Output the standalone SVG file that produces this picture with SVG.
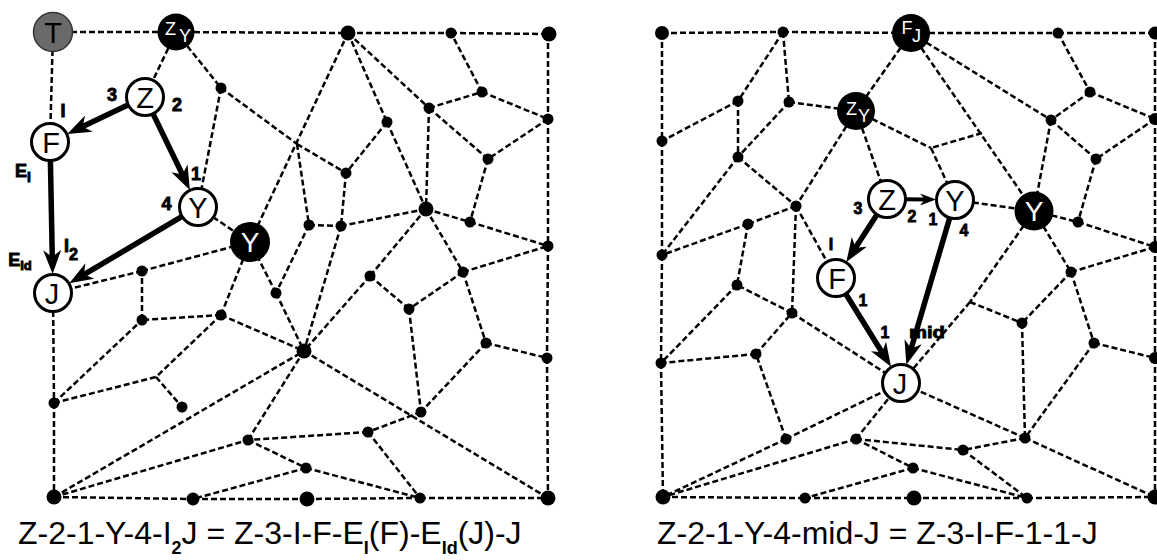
<svg xmlns="http://www.w3.org/2000/svg" width="1157" height="560" viewBox="0 0 1157 560">
<style>
.e{stroke:#000;stroke-width:2.5;stroke-dasharray:6 3;fill:none}
.a{stroke:#000;stroke-width:5.5;fill:none;marker-end:url(#ah)}
.d{fill:#000}
.wn{fill:#fff;stroke:#000;stroke-width:3}
.bn{fill:#000}
.lt{font-family:"Liberation Sans",Arial,sans-serif;font-size:29px;text-anchor:middle;fill:#000}
.lw{font-family:"Liberation Sans",Arial,sans-serif;text-anchor:middle;fill:#fff}
.lb{font-family:"Liberation Sans",Arial,sans-serif;font-weight:bold;font-size:18px;text-anchor:middle;fill:#000;stroke:#000;stroke-width:0.9}
.lr{font-family:"Liberation Sans",Arial,sans-serif;font-weight:bold;font-size:16px;text-anchor:middle;fill:#000;stroke:#000;stroke-width:0.8}
.cap{font-family:"Liberation Sans",Arial,sans-serif;font-size:32px;fill:#000}
.sub{font-weight:bold;font-size:18px}
</style>
<defs>
<marker id="ah" markerUnits="userSpaceOnUse" markerWidth="24" markerHeight="18" viewBox="0 0 24 18" refX="8" refY="9" orient="auto"><path d="M0,0 L24,9 L0,18 L7,9 Z" fill="#000"/></marker>
<marker id="ah2" markerUnits="userSpaceOnUse" markerWidth="16" markerHeight="12" viewBox="0 0 16 12" refX="5" refY="6" orient="auto"><path d="M0,0 L16,6 L0,12 L5,6 Z" fill="#000"/></marker>
</defs>
<rect width="1157" height="560" fill="#fff"/>
<g id="connectors">
<path class="e" d="M53,32 L176,32 M176,32 L348,33 M348,33 L451,33 M451,33 L549,34 M53,32 L50,142 M53,293 L54,403 M54,403 L54,497 M548,34 L548,119 M548,119 L548,246 M548,246 L547,358 M547,358 L548,498 M54,497 L193,499 M193,499 L307,499 M307,499 L420,498 M420,498 L548,498 M176,32 L145,97 M176,32 L221,88 M221,88 L198,207 M221,88 L297,144 M348,33 L250,242 M297,144 L346,173 M297,144 L309,225 M348,33 L387,122 M348,33 L429,108 M387,122 L346,173 M387,122 L426,209 M429,108 L426,209 M429,108 L482,92 M429,108 L488,159 M482,92 L451,33 M482,92 L548,119 M548,119 L488,159 M488,159 L470,222 M426,209 L470,222 M470,222 L548,246 M426,209 L341,226 M309,225 L341,226 M346,173 L341,226 M309,225 L276,293 M341,226 L304,351 M426,209 L370,276 M370,276 L304,351 M370,276 L409,309 M426,209 L463,272 M463,272 L548,246 M463,272 L409,309 M463,272 L486,343 M486,343 L547,358 M486,343 L421,412 M409,309 L421,412 M421,412 L368,432 M368,432 L248,440 M368,432 L420,498 M304,351 L548,498 M304,351 L248,440 M248,440 L306,468 M306,468 L420,498 M306,468 L193,499 M54,497 L248,440 M54,497 L304,351 M221,315 L250,242 M221,315 L142,320 M221,315 L304,351 M221,315 L156,377 M142,320 L142,271 M142,271 L53,293 M142,271 L250,242 M276,293 L250,242 M276,293 L304,351 M198,207 L250,242 M54,403 L156,377 M54,403 L142,320 M156,377 L182,407"/>
<path class="e" d="M662,33 L783,32 M783,32 L911,33 M911,33 L1058,33 M1058,33 L1155,33 M662,33 L662,141 M662,141 L662,255 M662,255 L661,363 M661,363 L663,497 M1155,33 L1155,119 M1155,119 L1155,247 M1155,247 L1155,358 M1155,358 L1155,497 M663,497 L805,498 M805,498 L914,498 M914,498 L1027,498 M1027,498 L1155,497 M783,32 L738,101 M783,32 L789,102 M738,101 L662,141 M738,101 L738,157 M789,102 L738,157 M789,102 L856,111 M911,33 L856,111 M856,111 L796,206 M856,111 L887,199 M856,111 L931,148 M738,157 L796,206 M738,157 L662,255 M796,206 L748,224 M748,224 L662,255 M748,224 L737,285 M796,206 L792,313 M796,206 L836,278 M911,33 L1034,211 M911,33 L1051,120 M1058,33 L1090,92 M1090,92 L1051,120 M1090,92 L1155,119 M1051,120 L1096,159 M1051,120 L1034,211 M1155,119 L1096,159 M1096,159 L1078,222 M1034,211 L1078,222 M1078,222 L1155,247 M982,133 L931,148 M931,148 L955,200 M955,200 L1034,211 M1034,211 L970,302 M1034,211 L1071,272 M1071,272 L1155,247 M1071,272 L1022,323 M1071,272 L1094,343 M970,302 L1022,323 M970,302 L901,383 M1022,323 L1025,438 M1094,343 L1155,358 M1094,343 L1025,438 M1025,438 L1155,497 M1025,438 L963,450 M1025,438 L901,383 M963,450 L1027,498 M856,439 L963,450 M913,468 L1027,498 M856,439 L913,468 M913,468 L805,498 M856,439 L901,383 M856,439 L663,497 M786,439 L663,497 M786,439 L901,383 M786,439 L756,354 M756,354 L661,363 M756,354 L792,313 M792,313 L901,383 M792,313 L737,285 M737,285 L661,363"/>
<line class="a" x1="127.8" y1="105.1" x2="81.7" y2="127.1"/>
<line class="a" x1="153.2" y1="114.1" x2="182.9" y2="175.5"/>
<line class="a" x1="50.4" y1="161" x2="52.3" y2="258"/>
<line class="a" x1="181.7" y1="216.7" x2="83.1" y2="275.1"/>
<line x1="906" y1="199.3" x2="925" y2="199.5" stroke="#000" stroke-width="4" marker-end="url(#ah2)"/>
<line class="a" x1="876.7" y1="215" x2="855" y2="248.6"/>
<line class="a" x1="846" y1="294.2" x2="882.6" y2="353.2"/>
<line class="a" x1="949.6" y1="218.2" x2="910.9" y2="349.5"/>
</g>
<g id="dots-left">
<circle class="d" cx="348" cy="33" r="7.5"/><circle class="d" cx="451" cy="33" r="5.5"/><circle class="d" cx="549" cy="34" r="7.5"/>
<circle class="d" cx="221" cy="88" r="5.5"/><circle class="d" cx="387" cy="122" r="5.5"/><circle class="d" cx="429" cy="108" r="5.5"/>
<circle class="d" cx="482" cy="92" r="5.5"/><circle class="d" cx="548" cy="119" r="5.5"/><circle class="d" cx="346" cy="173" r="5.5"/>
<circle class="d" cx="488" cy="159" r="5.5"/><circle class="d" cx="309" cy="225" r="5.5"/><circle class="d" cx="341" cy="226" r="5.5"/>
<circle class="d" cx="426" cy="209" r="7.5"/><circle class="d" cx="470" cy="222" r="5.5"/><circle class="d" cx="548" cy="246" r="5.5"/>
<circle class="d" cx="142" cy="271" r="5.5"/><circle class="d" cx="142" cy="320" r="5.5"/><circle class="d" cx="221" cy="315" r="5.5"/>
<circle class="d" cx="276" cy="293" r="5.5"/><circle class="d" cx="370" cy="276" r="5.5"/><circle class="d" cx="463" cy="272" r="5.5"/>
<circle class="d" cx="409" cy="309" r="5.5"/><circle class="d" cx="486" cy="343" r="5.5"/><circle class="d" cx="547" cy="358" r="5.5"/>
<circle class="d" cx="304" cy="351" r="7.5"/><circle class="d" cx="182" cy="407" r="5.5"/><circle class="d" cx="54" cy="403" r="5.5"/>
<circle class="d" cx="248" cy="440" r="5.5"/><circle class="d" cx="368" cy="432" r="5.5"/><circle class="d" cx="421" cy="412" r="5.5"/>
<circle class="d" cx="306" cy="468" r="5.5"/><circle class="d" cx="54" cy="497" r="7.5"/><circle class="d" cx="193" cy="499" r="6.5"/>
<circle class="d" cx="307" cy="499" r="7.5"/><circle class="d" cx="420" cy="498" r="5.5"/><circle class="d" cx="548" cy="498" r="7.5"/>
</g>
<g id="dots-right">
<circle class="d" cx="662" cy="33" r="7"/><circle class="d" cx="783" cy="32" r="5.5"/><circle class="d" cx="1058" cy="33" r="5.5"/><circle class="d" cx="1155" cy="33" r="6.5"/>
<circle class="d" cx="738" cy="101" r="5.5"/><circle class="d" cx="789" cy="102" r="5.5"/><circle class="d" cx="662" cy="141" r="5.5"/>
<circle class="d" cx="738" cy="157" r="5.5"/><circle class="d" cx="1090" cy="92" r="5.5"/><circle class="d" cx="1051" cy="120" r="5.5"/>
<circle class="d" cx="1155" cy="119" r="6"/><circle class="d" cx="1096" cy="159" r="5.5"/><circle class="d" cx="796" cy="206" r="5.5"/>
<circle class="d" cx="1078" cy="222" r="5.5"/><circle class="d" cx="1155" cy="247" r="6"/><circle class="d" cx="748" cy="224" r="5.5"/>
<circle class="d" cx="662" cy="255" r="5.5"/><circle class="d" cx="737" cy="285" r="5.5"/><circle class="d" cx="792" cy="313" r="5.5"/>
<circle class="d" cx="1071" cy="272" r="5.5"/><circle class="d" cx="1022" cy="323" r="5.5"/><circle class="d" cx="1094" cy="343" r="5.5"/>
<circle class="d" cx="1155" cy="358" r="6"/><circle class="d" cx="756" cy="354" r="5.5"/><circle class="d" cx="661" cy="363" r="5.5"/>
<circle class="d" cx="786" cy="439" r="5.5"/><circle class="d" cx="856" cy="439" r="5.5"/><circle class="d" cx="1025" cy="438" r="5.5"/>
<circle class="d" cx="963" cy="450" r="5.5"/><circle class="d" cx="913" cy="468" r="5.5"/><circle class="d" cx="663" cy="497" r="7.5"/>
<circle class="d" cx="805" cy="498" r="5.5"/><circle class="d" cx="914" cy="498" r="7.5"/><circle class="d" cx="1027" cy="498" r="5.5"/><circle class="d" cx="1155" cy="497" r="7.5"/>
</g>
<g id="L-T"><circle cx="53" cy="32" r="19.5" fill="#6a6a6a" stroke="#333" stroke-width="1.5"/><text x="53" y="42.5" class="lt" fill="#1a1a1a">T</text></g>
<g id="L-ZY"><circle cx="176" cy="32" r="18.5" class="bn"/><text x="170.5" y="35" class="lw" font-size="18">Z</text><text x="185" y="42" class="lw" font-size="18">Y</text></g>
<g id="L-Z"><circle cx="145" cy="97" r="18.5" class="wn"/><text x="145" y="107.5" class="lt">Z</text></g>
<g id="L-F"><circle cx="50" cy="142" r="18.5" class="wn"/><text x="51" y="152.5" class="lt">F</text></g>
<g id="L-Yw"><circle cx="198" cy="207" r="18.5" class="wn"/><text x="198" y="217.5" class="lt">Y</text></g>
<g id="L-Yb"><circle cx="250" cy="242" r="20" class="bn"/><text x="250" y="252" class="lw" font-size="28">Y</text></g>
<g id="L-J"><circle cx="53" cy="293" r="18.5" class="wn"/><text x="52" y="303.5" class="lt">J</text></g>
<g id="R-FJ"><circle cx="911" cy="33" r="19" class="bn"/><text x="907" y="34" class="lw" font-size="18">F</text><text x="916.5" y="41.5" class="lw" font-size="18">J</text></g>
<g id="R-ZY"><circle cx="856" cy="111" r="19" class="bn"/><text x="851.5" y="115" class="lw" font-size="18">Z</text><text x="864" y="122" class="lw" font-size="18">Y</text></g>
<g id="R-Z"><circle cx="887" cy="199" r="18.5" class="wn"/><text x="887" y="209.5" class="lt">Z</text></g>
<g id="R-Yw"><circle cx="955" cy="200" r="18.5" class="wn"/><text x="955" y="210.5" class="lt">Y</text></g>
<g id="R-Yb"><circle cx="1034" cy="211" r="19.5" class="bn"/><text x="1034" y="221" class="lw" font-size="28">Y</text></g>
<g id="R-F"><circle cx="836" cy="278" r="18.5" class="wn"/><text x="837" y="288.5" class="lt">F</text></g>
<g id="R-J"><circle cx="901" cy="383" r="18.5" class="wn"/><text x="900" y="393.5" class="lt">J</text></g>
<g id="labels-left">
<text x="112" y="101" class="lb">3</text>
<text x="177" y="111" class="lb">2</text>
<text x="63" y="117" class="lb">I</text>
<text x="23" y="177" class="lb" text-anchor="start">E<tspan font-size="14" dy="5">I</tspan></text>
<text x="196" y="180" class="lb" font-size="20">1</text>
<text x="166.5" y="210" class="lb">4</text>
<text x="71" y="252" class="lb" text-anchor="start">I<tspan font-size="16" dy="8">2</tspan></text>
<text x="20" y="266" class="lb" text-anchor="start">E<tspan font-size="13" dy="4">Id</tspan></text>
</g>
<g id="labels-right">
<text x="858" y="214" class="lr">3</text>
<text x="912" y="222" class="lr">2</text>
<text x="933" y="224.5" class="lr">1</text>
<text x="964" y="235.5" class="lr">4</text>
<text x="831" y="250" class="lr">I</text>
<text x="863" y="305.5" class="lr">1</text>
<text x="885" y="337.5" class="lr">1</text>
<text x="927" y="337.5" class="lr" text-anchor="start" textLength="36" lengthAdjust="spacingAndGlyphs">mid</text>
</g>
<g id="captions">
<text x="18" y="544" class="cap">Z-2-1-Y-4-I<tspan class="sub" dy="10">2</tspan><tspan dy="-10">J = Z-3-I-F-E</tspan><tspan class="sub" dy="10">I</tspan><tspan dy="-10">(F)-E</tspan><tspan class="sub" dy="10">Id</tspan><tspan dy="-10">(J)-J</tspan></text>
<text x="657" y="544" class="cap">Z-2-1-Y-4-mid-J = Z-3-I-F-1-1-J</text>
</g>
</svg>
